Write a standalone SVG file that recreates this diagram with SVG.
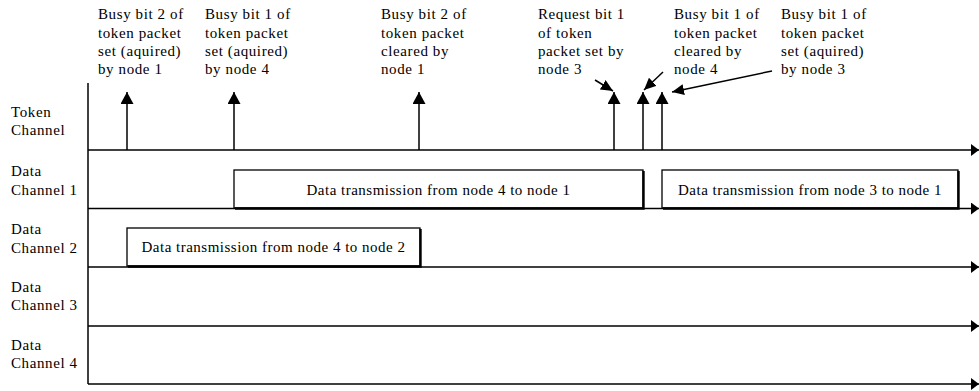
<svg xmlns="http://www.w3.org/2000/svg" width="979" height="391" viewBox="0 0 979 391">
  <style>
    text { font-family: "Liberation Serif", "Times New Roman", serif; font-size: 15px; fill: #000; letter-spacing: 0.6px; }
    .line { stroke: #000; stroke-width: 1.5; fill: none; }
    .box { fill: #fff; stroke: #000; stroke-width: 1.3; }
    .shadow { fill: none; stroke: #000; stroke-width: 2.4; }
    .mid { text-anchor: middle; letter-spacing: 0.5px; }
  </style>
  <defs>
    <marker id="head" viewBox="0 0 12 11" refX="12" refY="5.5" markerWidth="12" markerHeight="11" markerUnits="userSpaceOnUse" orient="auto">
      <path d="M0,0 L12,5.5 L0,11 Z" fill="#000"/>
    </marker>
    <marker id="up" viewBox="0 0 12 13" refX="12" refY="6.5" markerWidth="12" markerHeight="13" markerUnits="userSpaceOnUse" orient="auto">
      <path d="M0,0 L12,6.5 L0,13 Z" fill="#000"/>
    </marker>
    <marker id="end" viewBox="0 0 8 12" refX="8" refY="6" markerWidth="8" markerHeight="12" markerUnits="userSpaceOnUse" orient="auto">
      <path d="M0,0 L8,6 L0,12 Z" fill="#000"/>
    </marker>
  </defs>

  <!-- channel labels -->
  <g id="label-token"><text x="11" y="117">Token</text><text x="11" y="135">Channel</text></g>
  <g id="label-dc1"><text x="11" y="176">Data</text><text x="11" y="195">Channel 1</text></g>
  <g id="label-dc2"><text x="11" y="234">Data</text><text x="11" y="253">Channel 2</text></g>
  <g id="label-dc3"><text x="11" y="292">Data</text><text x="11" y="310">Channel 3</text></g>
  <g id="label-dc4"><text x="11" y="350">Data</text><text x="11" y="368">Channel 4</text></g>

  <!-- event annotations above the token channel -->
  <g id="note-busy2-set">
    <text x="98" y="19">Busy bit 2 of</text><text x="98" y="38">token packet</text>
    <text x="98" y="56">set (aquired)</text><text x="98" y="74">by node 1</text>
  </g>
  <g id="note-busy1-set-n4">
    <text x="205" y="19">Busy bit 1 of</text><text x="205" y="38">token packet</text>
    <text x="205" y="56">set (aquired)</text><text x="205" y="74">by node 4</text>
  </g>
  <g id="note-busy2-clear">
    <text x="381" y="19">Busy bit 2 of</text><text x="381" y="38">token packet</text>
    <text x="381" y="56">cleared by</text><text x="381" y="74">node 1</text>
  </g>
  <g id="note-request1">
    <text x="538" y="19">Request bit 1</text><text x="538" y="38">of token</text>
    <text x="538" y="56">packet set by</text><text x="538" y="74">node 3</text>
  </g>
  <g id="note-busy1-clear">
    <text x="674" y="19">Busy bit 1 of</text><text x="674" y="38">token packet</text>
    <text x="674" y="56">cleared by</text><text x="674" y="74">node 4</text>
  </g>
  <g id="note-busy1-set-n3">
    <text x="781" y="19">Busy bit 1 of</text><text x="781" y="38">token packet</text>
    <text x="781" y="56">set (aquired)</text><text x="781" y="74">by node 3</text>
  </g>

  <!-- transmissions -->
  <g id="tx-4-1">
    <rect class="box" x="234" y="170" width="409" height="38"/>
    <path class="shadow" d="M235,208.5 H643.5 V171"/>
    <text class="mid" x="438.5" y="195">Data transmission from node 4 to node 1</text>
  </g>
  <g id="tx-3-1">
    <rect class="box" x="662" y="170" width="296" height="38"/>
    <path class="shadow" d="M663,208.5 H958.5 V171"/>
    <text class="mid" x="810" y="195">Data transmission from node 3 to node 1</text>
  </g>
  <g id="tx-4-2">
    <rect class="box" x="127" y="228" width="293" height="38"/>
    <path class="shadow" d="M128,266.5 H420.5 V229"/>
    <text class="mid" x="273.5" y="252">Data transmission from node 4 to node 2</text>
  </g>

  <!-- connectors: time axes, event arrows, pointers -->
  <g id="connectors">
    <line class="line" x1="88" y1="83" x2="88" y2="384"/>
    <line class="line" x1="88" y1="150" x2="979" y2="150" marker-end="url(#end)"/>
    <line class="line" x1="88" y1="208.5" x2="979" y2="208.5" marker-end="url(#end)"/>
    <line class="line" x1="88" y1="267" x2="979" y2="267" marker-end="url(#end)"/>
    <line class="line" x1="88" y1="326" x2="979" y2="326" marker-end="url(#end)"/>
    <line class="line" x1="88" y1="384" x2="979" y2="384" marker-end="url(#end)"/>

    <line class="line" x1="127" y1="150" x2="127" y2="92" marker-end="url(#up)"/>
    <line class="line" x1="234" y1="150" x2="234" y2="92" marker-end="url(#up)"/>
    <line class="line" x1="419" y1="150" x2="419" y2="92" marker-end="url(#up)"/>
    <line class="line" x1="614" y1="150" x2="614" y2="92" marker-end="url(#up)"/>
    <line class="line" x1="643" y1="150" x2="643" y2="92" marker-end="url(#up)"/>
    <line class="line" x1="662" y1="150" x2="662" y2="92" marker-end="url(#up)"/>

    <line class="line" x1="595" y1="80" x2="613" y2="91" marker-end="url(#head)"/>
    <line class="line" x1="663" y1="72" x2="644" y2="90" marker-end="url(#head)"/>
    <line class="line" x1="772" y1="71" x2="672" y2="92" marker-end="url(#head)"/>
  </g>
</svg>
